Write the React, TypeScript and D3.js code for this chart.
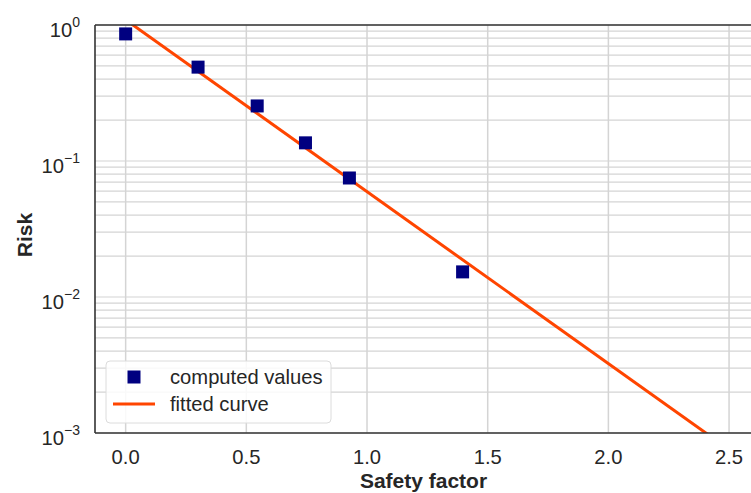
import React from "react";
import * as d3 from "d3";

const safetyFactor = [0.0, 0.3, 0.545, 0.745, 0.927, 1.396];
const riskValues = [0.86, 0.49, 0.254, 0.136, 0.075, 0.0153];
const fitX = [0.0, 2.6];
const fitY = [1.092, 0.000565];
const xTicks = [0.0, 0.5, 1.0, 1.5, 2.0, 2.5];
const yExponents = [0, -1, -2, -3];

const W = 751, H = 493;
const M = { left: 95, top: 25, right: 752, bottom: 433 };

export default function App() {
  const x = d3.scaleLinear().domain([-0.127, 2.595]).range([M.left, M.right]);
  const y = d3.scaleLog().domain([1e-3, 1]).range([M.bottom, M.top]);
  const minor: number[] = [];
  for (let e = -3; e < 0; e++) for (let k = 2; k <= 9; k++) minor.push(k * Math.pow(10, e));
  const line = d3.line<number>().x((_, i) => x(fitX[i])).y((_, i) => y(fitY[i]));
  const font = "'Liberation Sans', Arial, sans-serif";
  const sq = 13;
  const tc = "#262626";
  const fs = 20.2;
  return (
    <svg width={W} height={H} style={{ position: "absolute", left: 0, top: 0 }} fontFamily={font}>
      <defs>
        <clipPath id="plot">
          <rect x={M.left} y={M.top} width={M.right - M.left} height={M.bottom - M.top} />
        </clipPath>
      </defs>
      <rect x={0} y={0} width={W} height={H} fill="white" />
      <g stroke="#d4d4d4" strokeWidth={1.2}>
        {minor.map((v, i) => (
          <line key={"m" + i} x1={M.left} x2={M.right} y1={y(v)} y2={y(v)} />
        ))}
        {yExponents.map((e) => (
          <line key={"y" + e} x1={M.left} x2={M.right} y1={y(Math.pow(10, e))} y2={y(Math.pow(10, e))} />
        ))}
        {xTicks.map((t) => (
          <line key={"x" + t} x1={x(t)} x2={x(t)} y1={M.top} y2={M.bottom} strokeWidth={1.5} />
        ))}
      </g>
      <g clipPath="url(#plot)">
        <path d={line(fitX) || ""} fill="none" stroke="#FF4500" strokeWidth={3} />
        {safetyFactor.map((s, i) => (
          <rect key={i} x={x(s) - sq / 2} y={y(riskValues[i]) - sq / 2} width={sq} height={sq} fill="#000080" />
        ))}
      </g>
      <g stroke="#333" strokeWidth={1.6} fill="none">
        <line x1={M.left} x2={M.left} y1={M.top} y2={M.bottom} />
        <line x1={M.left} x2={M.right} y1={M.bottom} y2={M.bottom} />
        <line x1={M.left} x2={M.right} y1={M.top} y2={M.top} />
      </g>
      {xTicks.map((t) => (
        <text key={t} x={x(t)} y={464} textAnchor="middle" fontSize={fs} fill={tc}>
          {t.toFixed(1)}
        </text>
      ))}
      {yExponents.map((e) => (
        <text key={e} x={80} y={y(Math.pow(10, e)) + 12} textAnchor="end" fontSize={fs} fill={tc}>
          10
          <tspan fontSize={14} dy={-10}>{e === 0 ? "0" : "\u2212" + String(-e)}</tspan>
        </text>
      ))}
      <text x={(M.left + M.right) / 2} y={488} textAnchor="middle" fontSize={21} fontWeight="bold" fill={tc}>
        Safety factor
      </text>
      <text transform={`translate(32,${(M.top + M.bottom) / 2 + 6}) rotate(-90)`} textAnchor="middle" fontSize={21} fontWeight="bold" fill={tc}>
        Risk
      </text>
      <g>
        <rect x={106} y={361} width={225} height={62} rx={4} fill="white" fillOpacity={0.85} stroke="#dcdcdc" strokeWidth={1} />
        <rect x={134 - 6.5} y={377 - 6.5} width={13} height={13} fill="#000080" />
        <text x={170} y={383.5} fontSize={fs} fill={tc}>computed values</text>
        <line x1={113} x2={155} y1={404} y2={404} stroke="#FF4500" strokeWidth={3} />
        <text x={170} y={411} fontSize={fs} fill={tc}>fitted curve</text>
      </g>
    </svg>
  );
}
